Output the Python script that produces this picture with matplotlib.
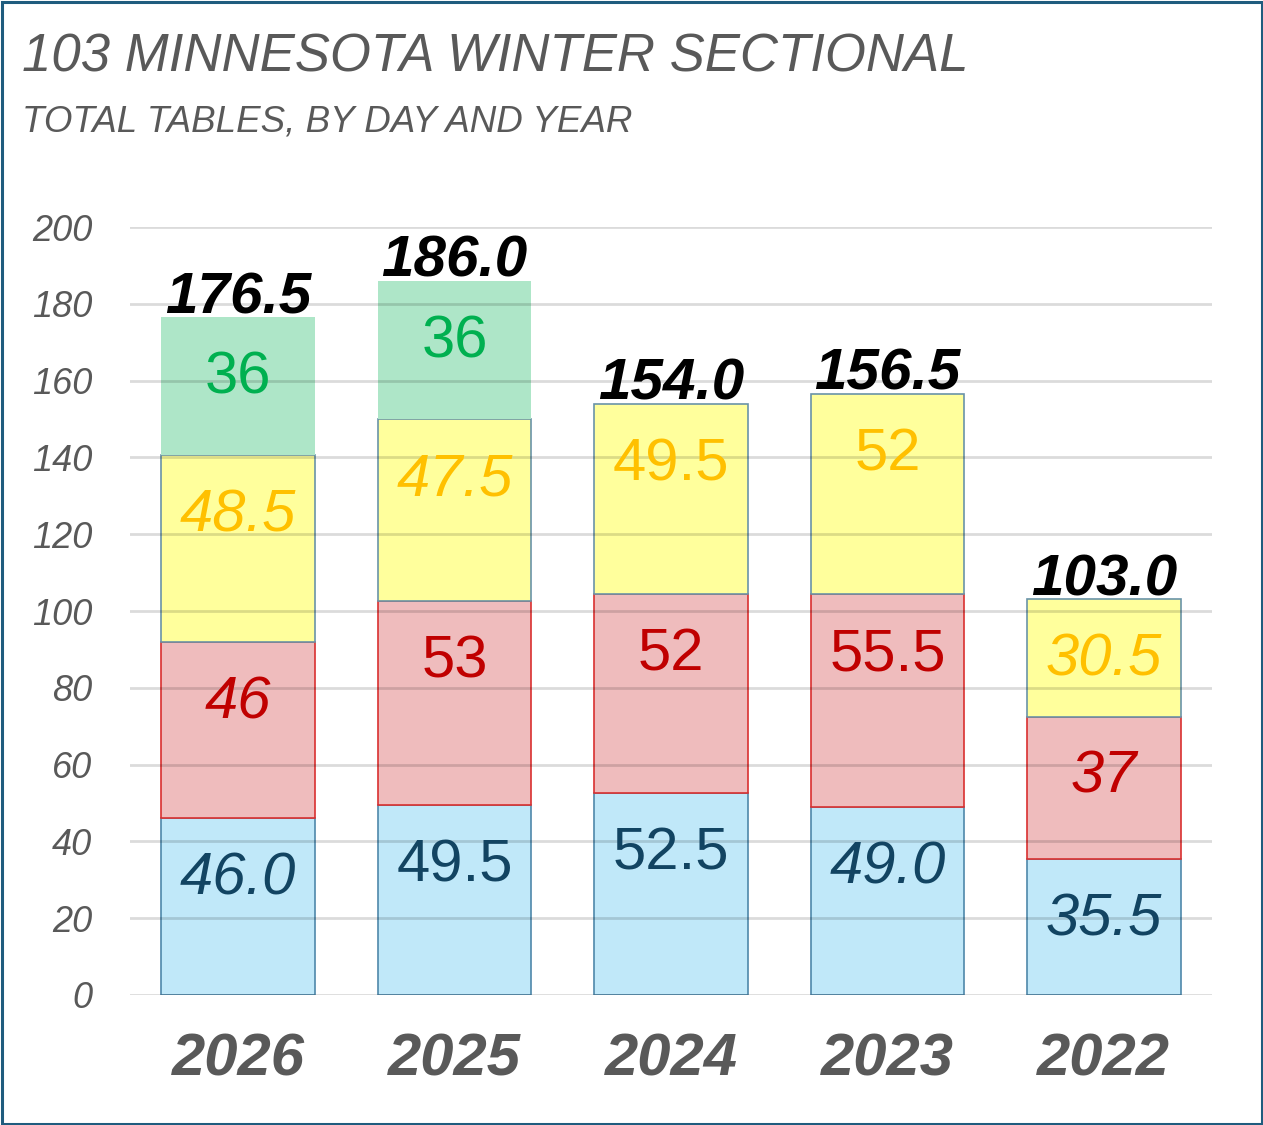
import matplotlib.pyplot as plt
import numpy as np
from matplotlib.patches import Rectangle

years = ['2026', '2025', '2024', '2023', '2022']
day1 = [46.0, 49.5, 52.5, 49.0, 35.5]
day2 = [46, 53, 52, 55.5, 37]
day3 = [48.5, 47.5, 49.5, 52, 30.5]
day4 = [36, 36, 0, 0, 0]
day1_txt = ['46.0', '49.5', '52.5', '49.0', '35.5']
day2_txt = ['46', '53', '52', '55.5', '37']
day3_txt = ['48.5', '47.5', '49.5', '52', '30.5']
day4_txt = ['36', '36', '', '', '']
yticks = [0, 20, 40, 60, 80, 100, 120, 140, 160, 180, 200]

# label slant
day1_style = ['italic', 'normal', 'normal', 'italic', 'italic']
day2_style = ['italic', 'normal', 'normal', 'normal', 'italic']
day3_style = ['italic', 'italic', 'normal', 'normal', 'italic']
day4_style = ['normal', 'normal', 'normal', 'normal', 'normal']

plt.rcParams['font.family'] = ['Liberation Sans', 'DejaVu Sans']

W, H = 1263, 1125
fig = plt.figure(figsize=(W / 100, H / 100), dpi=100)
ax = fig.add_axes([130 / W, 1 - 995 / H, (1212 - 130) / W, (995 - 227) / H])

x = np.arange(len(years))
bw = 0.71
series = [
    (day1, day1_txt, day1_style, '#C0E8F9', '#4F88AA', '#124462'),
    (day2, day2_txt, day2_style, '#EFBCBD', '#D93030', '#C00000'),
    (day3, day3_txt, day3_style, '#FFFF9C', '#6A93A8', '#FFC000'),
    (day4, day4_txt, day4_style, '#AEE6C8', 'none', '#00B050'),
]
bottom = np.zeros(len(years))
for vals, txts, styles, fc, ec, tc in series:
    vals = np.array(vals, dtype=float)
    ax.bar(x, vals, bw, bottom=bottom, color=fc, edgecolor=ec, linewidth=1.2, zorder=2)
    for i in range(len(years)):
        if vals[i] > 0:
            ax.annotate(txts[i], (x[i], bottom[i] + vals[i]), xytext=(0, -55),
                        textcoords='offset points', ha='center', va='baseline',
                        fontsize=43, color=tc, style=styles[i], zorder=4)
    bottom = bottom + vals

for i in range(len(years)):
    ax.annotate('%.1f' % bottom[i], (x[i], bottom[i]), xytext=(0, 3),
                textcoords='offset points', ha='center', va='baseline',
                fontsize=42, fontweight='bold', style='italic', color='black', zorder=4)

for t in yticks:
    ax.axhline(t, color='black', alpha=0.14, linewidth=2.0, zorder=3)

ax.set_xlim(-0.5, 4.5)
ax.set_ylim(0, 200)
ax.set_yticks(yticks)
ax.set_yticklabels([str(t) for t in yticks], fontsize=26, style='italic', color='#595959')
ax.set_xticks(x)
ax.set_xticklabels(years, fontsize=43, fontweight='bold', style='italic', color='#595959')
ax.tick_params(axis='y', length=0, pad=27)
ax.tick_params(axis='x', length=0, pad=27)
for s in ax.spines.values():
    s.set_visible(False)

fig.text(22 / W, 1 - 71 / H, '103 MINNESOTA WINTER SECTIONAL', fontsize=38,
         style='italic', color='#595959', va='baseline')
fig.text(22 / W, 1 - 131 / H, 'TOTAL TABLES, BY DAY AND YEAR', fontsize=26.5,
         style='italic', color='#595959', va='baseline')

fig.patches.append(Rectangle((1.5 / W, 1.5 / H), 1 - 3 / W, 1 - 3 / H, transform=fig.transFigure,
                             fill=False, edgecolor='#1F5C7E', linewidth=2.2))

fig.savefig('out.png', dpi=100)
